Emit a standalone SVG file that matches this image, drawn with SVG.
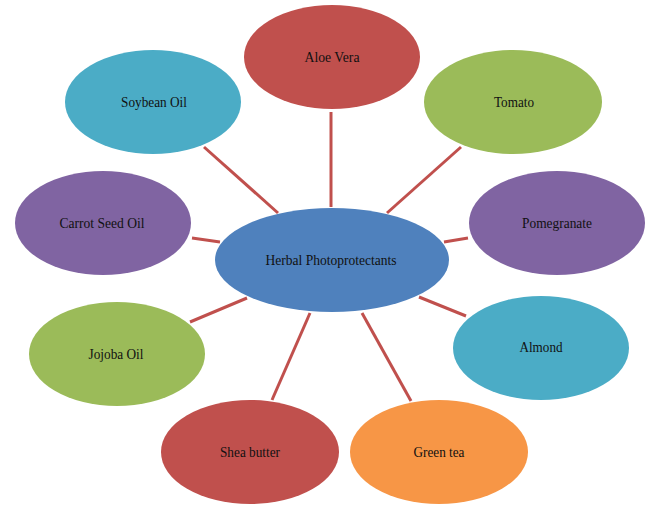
<svg xmlns="http://www.w3.org/2000/svg" width="652" height="510" viewBox="0 0 652 510">
<style>
.lbl{font-family:"Liberation Serif","Times New Roman",serif;font-size:15px;fill:#111;text-anchor:middle}
.c{stroke:#C0504D;stroke-width:3;fill:none}
.red{fill:#C0504D}.blue{fill:#4BACC6}.green{fill:#9BBB59}.purple{fill:#8064A2}.orange{fill:#F79646}.main{fill:#4F81BD}
</style>
<rect width="652" height="510" fill="#fff"/>
<g id="connectors">
<line class="c" x1="331" y1="112" x2="331" y2="207"/>
<line class="c" x1="204" y1="147" x2="278" y2="213"/>
<line class="c" x1="461" y1="147" x2="387" y2="213"/>
<line class="c" x1="192" y1="238" x2="220" y2="242"/>
<line class="c" x1="444" y1="242" x2="468" y2="238"/>
<line class="c" x1="247" y1="298" x2="190" y2="322"/>
<line class="c" x1="419" y1="297" x2="466" y2="316"/>
<line class="c" x1="310" y1="313" x2="272" y2="400"/>
<line class="c" x1="362" y1="313" x2="411" y2="401"/>
</g>
<g id="aloe-vera"><ellipse class="red" cx="332" cy="57" rx="88" ry="52"/><text class="lbl" x="332" y="62" textLength="55" lengthAdjust="spacingAndGlyphs">Aloe Vera</text></g>
<g id="soybean-oil"><ellipse class="blue" cx="153" cy="102" rx="88" ry="52"/><text class="lbl" x="154" y="107" textLength="66" lengthAdjust="spacingAndGlyphs">Soybean Oil</text></g>
<g id="tomato"><ellipse class="green" cx="513" cy="102" rx="89" ry="52"/><text class="lbl" x="514" y="107" textLength="40" lengthAdjust="spacingAndGlyphs">Tomato</text></g>
<g id="carrot-seed-oil"><ellipse class="purple" cx="103" cy="223" rx="88" ry="52"/><text class="lbl" x="102" y="228" textLength="85" lengthAdjust="spacingAndGlyphs">Carrot Seed Oil</text></g>
<g id="pomegranate"><ellipse class="purple" cx="557" cy="223" rx="88" ry="52"/><text class="lbl" x="557" y="228" textLength="70" lengthAdjust="spacingAndGlyphs">Pomegranate</text></g>
<g id="herbal-photoprotectants"><ellipse class="main" cx="332" cy="260" rx="117" ry="52"/><text class="lbl" x="331" y="265" textLength="131" lengthAdjust="spacingAndGlyphs">Herbal Photoprotectants</text></g>
<g id="jojoba-oil"><ellipse class="green" cx="117" cy="354" rx="88" ry="52"/><text class="lbl" x="116" y="359" textLength="55" lengthAdjust="spacingAndGlyphs">Jojoba Oil</text></g>
<g id="almond"><ellipse class="blue" cx="541" cy="348" rx="88" ry="52"/><text class="lbl" x="541" y="352" textLength="43" lengthAdjust="spacingAndGlyphs">Almond</text></g>
<g id="shea-butter"><ellipse class="red" cx="250" cy="452" rx="89" ry="52"/><text class="lbl" x="250" y="457" textLength="60" lengthAdjust="spacingAndGlyphs">Shea butter</text></g>
<g id="green-tea"><ellipse class="orange" cx="439" cy="452" rx="89" ry="52"/><text class="lbl" x="439" y="457" textLength="51" lengthAdjust="spacingAndGlyphs">Green tea</text></g>
</svg>
